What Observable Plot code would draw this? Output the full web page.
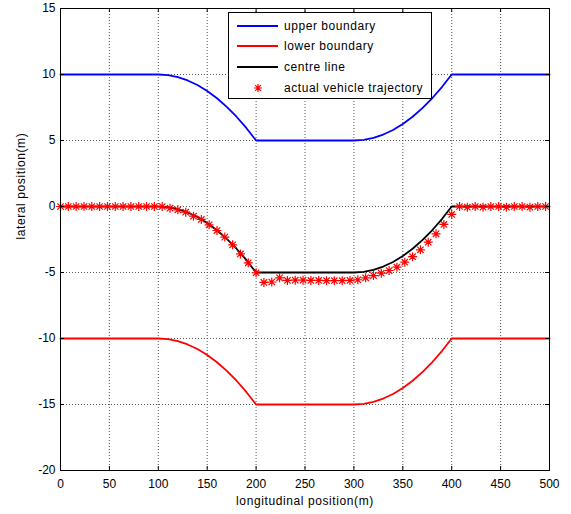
<!DOCTYPE html>
<html>
<head>
<meta charset="utf-8">
<script src="https://cdn.jsdelivr.net/npm/d3@7"></script>
<script src="https://cdn.jsdelivr.net/npm/@observablehq/plot@0.6"></script>
<style>
  html, body { margin: 0; padding: 0; background: #fff; }
  #wrap { position: relative; width: 571px; height: 514px; font-family: 'Liberation Sans', Arial, sans-serif; }
  #legend { position: absolute; left: 228px; top: 12px; width: 202px; height: 85px; border: 1px solid #000; background: #fff; font-size: 12px; letter-spacing: 0.55px; }
  #legend .row { position: absolute; left: 0; height: 16px; display: flex; align-items: center; }
  #legend svg { display: block; }
  #legend span { margin-left: 5px; white-space: nowrap; color: #000; }
</style>
</head>
<body>
<div id="wrap"></div>
<script>
// ---- data ----
const xTicks = [0, 50, 100, 150, 200, 250, 300, 350, 400, 450, 500];
const yTicks = [-20, -15, -10, -5, 0, 5, 10, 15];

const boundX = [0, 100, 110, 120, 130, 140, 150, 160, 170, 180, 190, 200, 300, 310, 320, 330, 340, 350, 360, 370, 380, 390, 400, 500];
const upperBoundary = [10, 10, 9.95, 9.8, 9.55, 9.2, 8.75, 8.2, 7.55, 6.8, 5.95, 5, 5, 5.05, 5.2, 5.45, 5.8, 6.25, 6.8, 7.45, 8.2, 9.05, 10, 10];
const centreLine = [0, 0, -0.05, -0.2, -0.45, -0.8, -1.25, -1.8, -2.45, -3.2, -4.05, -5, -5, -4.95, -4.8, -4.55, -4.2, -3.75, -3.2, -2.55, -1.8, -0.95, 0, 0];
const lowerBoundary = [-10, -10, -10.05, -10.2, -10.45, -10.8, -11.25, -11.8, -12.45, -13.2, -14.05, -15, -15, -14.95, -14.8, -14.55, -14.2, -13.75, -13.2, -12.55, -11.8, -10.95, -10, -10];

const trajX = [0, 8, 16, 24, 32, 40, 48, 56, 64, 72, 80, 88, 96, 104,
  112, 120, 128, 136, 144, 152, 160, 168, 176, 184, 192, 200,
  208, 216, 224, 232, 240, 248, 256, 264, 272, 280, 288, 296,
  304, 312, 320, 328, 336, 344, 352, 360, 368, 376, 384, 392, 400,
  408, 416, 424, 432, 440, 448, 456, 464, 472, 480, 488, 496];
const trajY = [0, 0, 0, 0, 0, 0, 0, 0, 0, 0, 0, 0, 0, 0,
  -0.13, -0.25, -0.43, -0.73, -0.98, -1.39, -1.82, -2.32, -2.9, -3.59, -4.27, -5.02,
  -5.75, -5.72, -5.4, -5.6, -5.58, -5.58, -5.6, -5.6, -5.62, -5.62, -5.62, -5.6,
  -5.55, -5.4, -5.23, -5.05, -4.85, -4.6, -4.22, -3.8, -3.28, -2.7, -2.07, -1.36, -0.6,
  0, -0.05, 0, -0.05, 0, 0, -0.05, 0, 0, -0.05, 0, 0];

const seriesNames = ["upper boundary", "lower boundary", "centre line", "actual vehicle trajectory"];
const seriesColors = ["#0000ff", "#ff0000", "#000000", "#ff0000"];

// ---- tables ----
const bounds = boundX.map((x, i) => ({x, upper: upperBoundary[i], centre: centreLine[i], lower: lowerBoundary[i]}));
const traj = trajX.map((x, i) => ({x, y: trajY[i]}));

// MATLAB-like '*' marker (plus + cross)
const starSymbol = {
  draw(context, size) {
    const r = Math.sqrt(size / Math.PI);
    const d = r * Math.SQRT1_2;
    context.moveTo(-r, 0); context.lineTo(r, 0);
    context.moveTo(0, -r); context.lineTo(0, r);
    context.moveTo(-d, -d); context.lineTo(d, d);
    context.moveTo(-d, d); context.lineTo(d, -d);
  }
};

const W = 571, H = 514, ML = 60, MR = 22, MT = 8, MB = 44;
const plotW = W - ML - MR, plotH = H - MT - MB;
const tickLen = 4;
const gridStyle = {stroke: "#555", strokeWidth: 1, strokeDasharray: "1,2"};

const chart = Plot.plot({
  width: W, height: H,
  marginLeft: ML, marginRight: MR, marginTop: MT, marginBottom: MB,
  style: {fontFamily: "'Liberation Sans', Arial, sans-serif", fontSize: "12px", background: "#fff", color: "#000", overflow: "visible"},
  x: {domain: [0, 500]},
  y: {domain: [-20, 15]},
  marks: [
    Plot.ruleX(xTicks.slice(1, -1), {x: d => d, ...gridStyle}),
    Plot.ruleY(yTicks.slice(1, -1), {y: d => d, ...gridStyle}),
    Plot.line(bounds, {x: "x", y: "upper", stroke: seriesColors[0], strokeWidth: 1.8}),
    Plot.line(bounds, {x: "x", y: "lower", stroke: seriesColors[1], strokeWidth: 1.8}),
    Plot.line(bounds, {x: "x", y: "centre", stroke: seriesColors[2], strokeWidth: 1.8}),
    Plot.dot(traj, {x: "x", y: "y", symbol: starSymbol, r: 4.5, fill: "none", stroke: seriesColors[3], strokeWidth: 1.2}),
    // inward ticks on all sides
    Plot.ruleX(xTicks, {x: d => d, insetTop: plotH - tickLen, stroke: "#000"}),
    Plot.ruleX(xTicks, {x: d => d, insetBottom: plotH - tickLen, stroke: "#000"}),
    Plot.ruleY(yTicks, {y: d => d, insetRight: plotW - tickLen, stroke: "#000"}),
    Plot.ruleY(yTicks, {y: d => d, insetLeft: plotW - tickLen, stroke: "#000"}),
    Plot.frame({stroke: "#000"}),
    Plot.axisX(xTicks, {tickSize: 0, tickPadding: 9, tickFormat: d => String(d), label: null}),
    Plot.axisY(yTicks, {tickSize: 0, tickPadding: 5, tickFormat: d => String(d), label: null}),
    Plot.text(["longitudinal position(m)"], {frameAnchor: "bottom", dy: 34, fontSize: 12, style: "letter-spacing:0.7px"}),
    Plot.text(["lateral position(m)"], {frameAnchor: "left", rotate: -90, dx: -39, fontSize: 12})
  ]
});

// letter spacing for axis titles (Plot.text has no letterSpacing option)
d3.select(chart).selectAll("text").filter(function() {
  const t = this.textContent;
  return t === "longitudinal position(m)" || t === "lateral position(m)";
}).style("letter-spacing", "0.6px");

const wrap = document.getElementById("wrap");
wrap.appendChild(chart);

// legend overlay
const legend = document.createElement("div");
legend.id = "legend";
const rowTops = [5, 25, 46, 67];
seriesNames.forEach((name, i) => {
  const row = document.createElement("div");
  row.className = "row";
  row.style.top = rowTops[i] + "px";
  const svg = d3.create("svg").attr("width", 50).attr("height", 16);
  if (i < 3) {
    svg.append("line").attr("x1", 8).attr("x2", 49).attr("y1", 8).attr("y2", 8)
      .attr("stroke", seriesColors[i]).attr("stroke-width", 1.8);
  } else {
    const p = d3.path();
    starSymbol.draw(p, Math.PI * 16);
    svg.append("path").attr("d", p.toString()).attr("transform", "translate(29,8)")
      .attr("stroke", seriesColors[i]).attr("fill", "none").attr("stroke-width", 1.2);
  }
  row.appendChild(svg.node());
  const span = document.createElement("span");
  span.textContent = name;
  row.appendChild(span);
  legend.appendChild(row);
});
wrap.appendChild(legend);
</script>
</body>
</html>
